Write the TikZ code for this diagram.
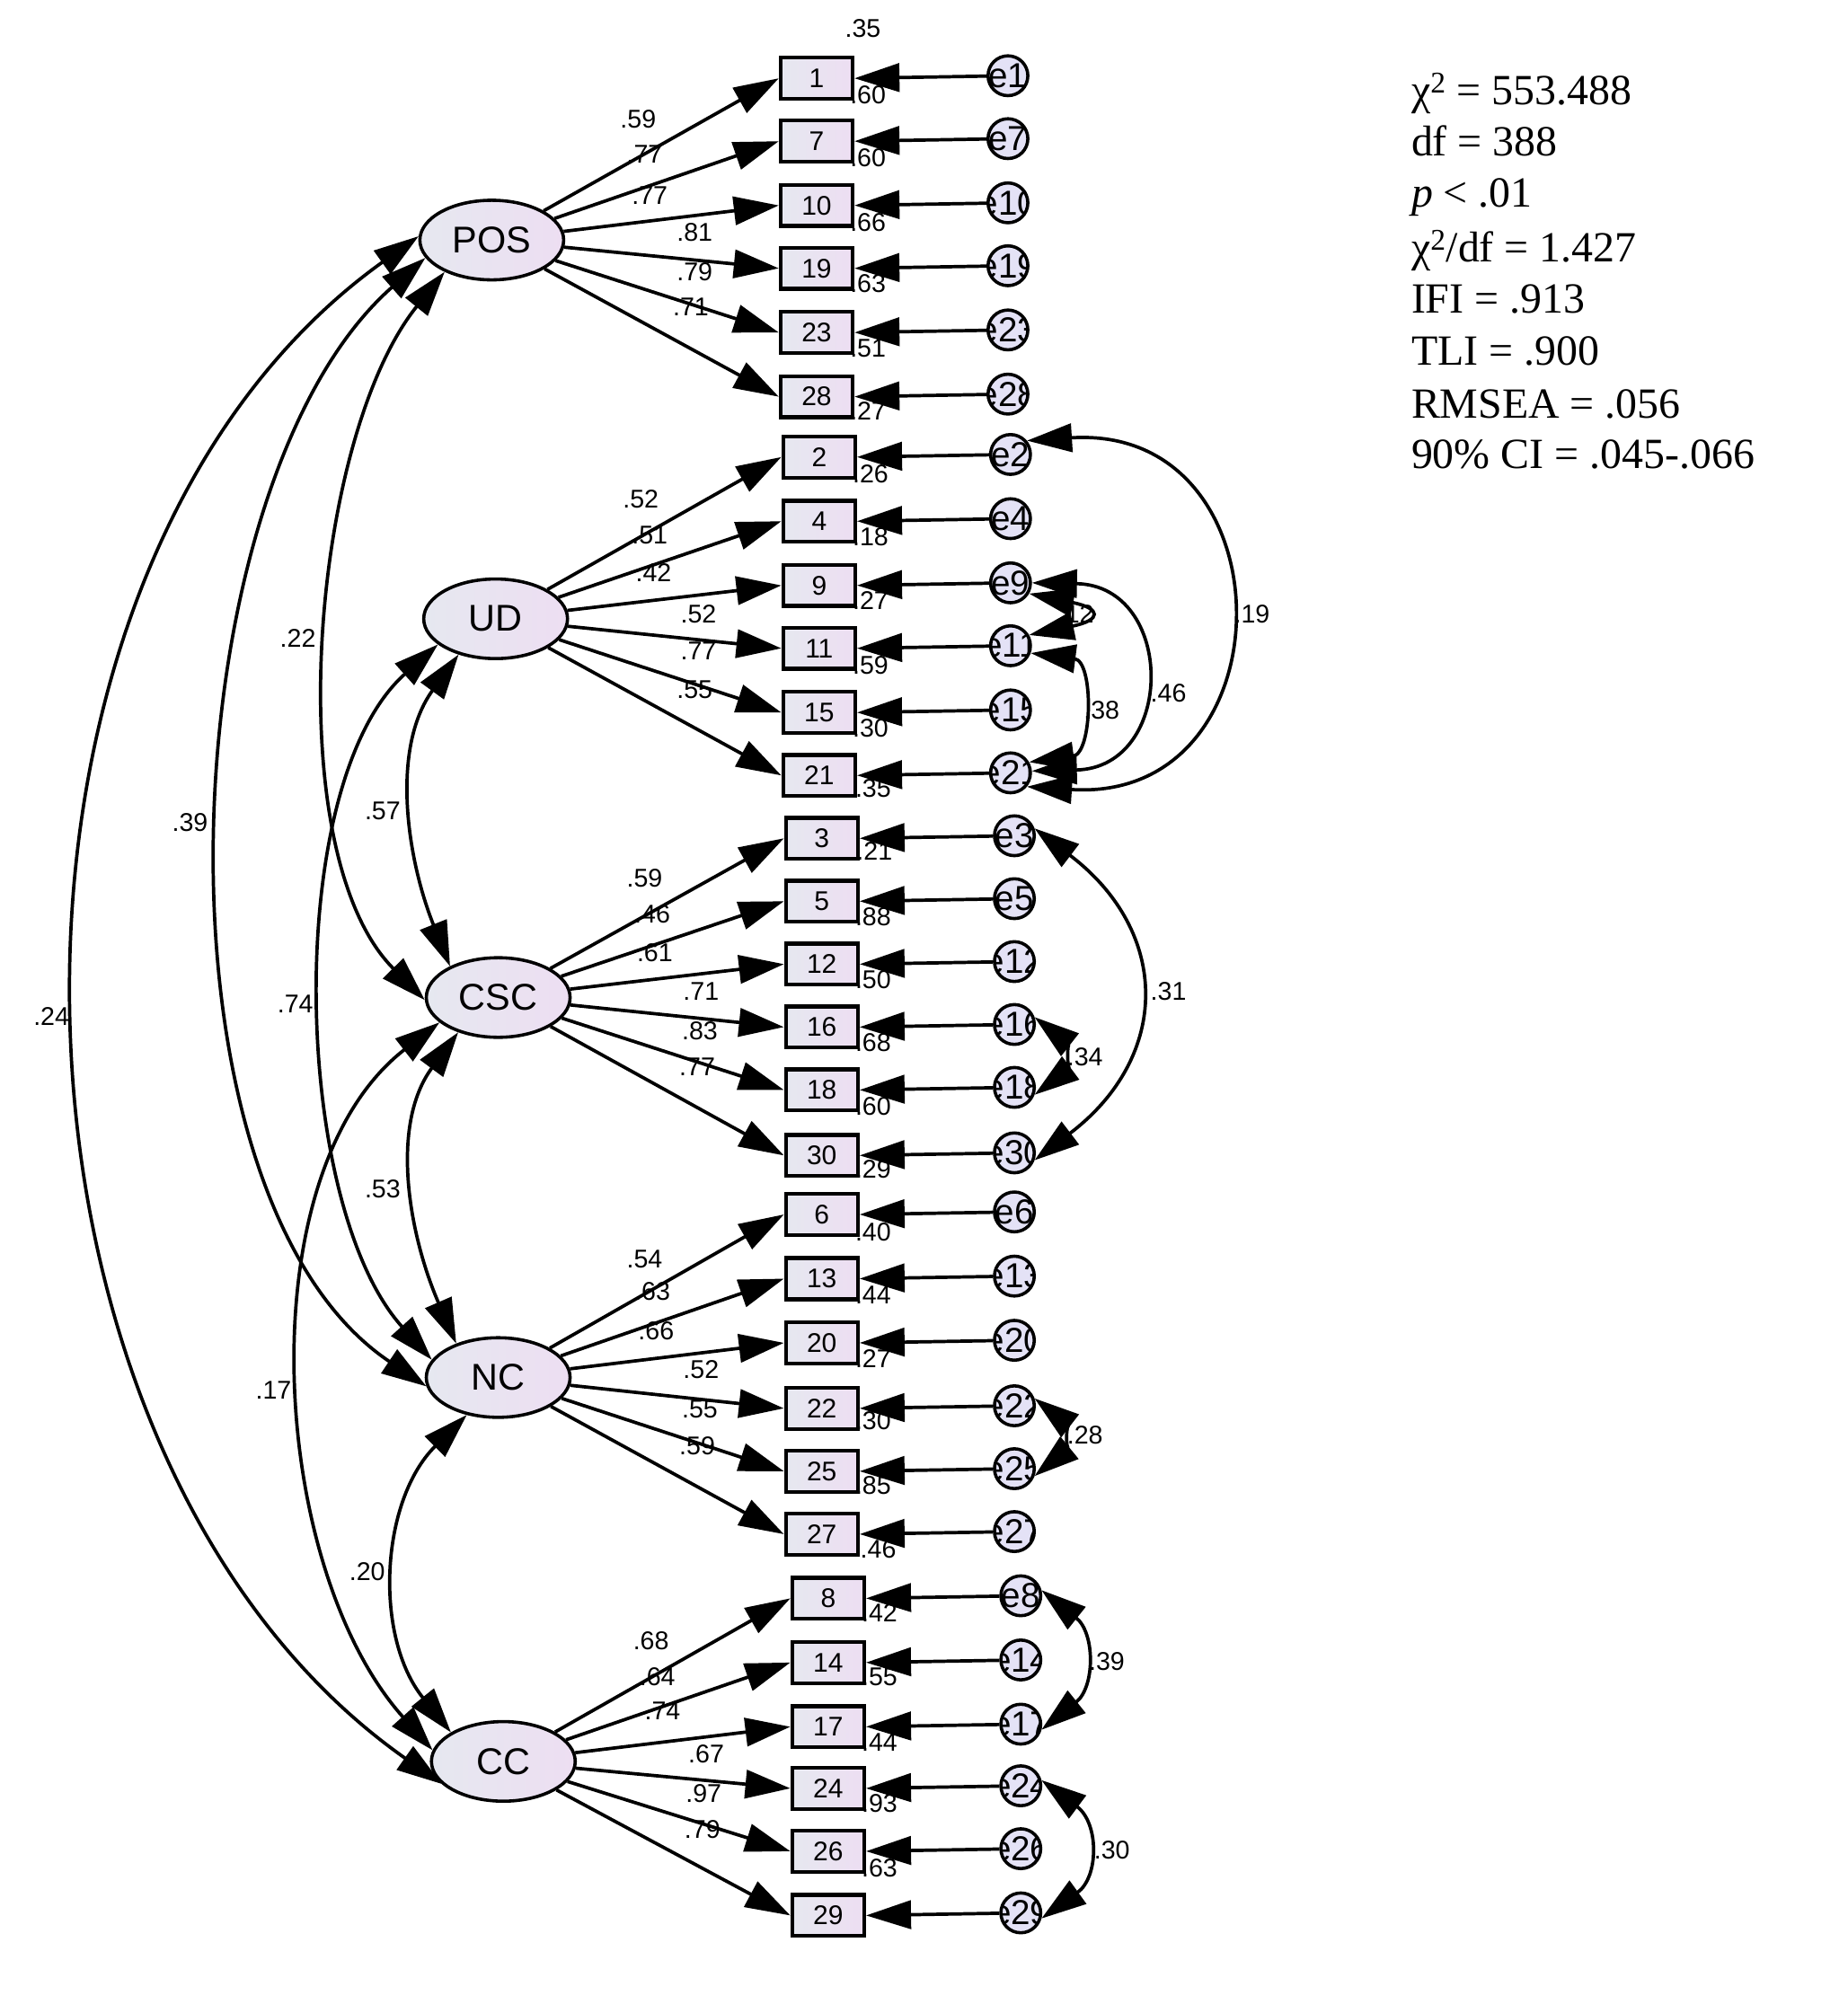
\documentclass[tikz,border=0pt]{standalone}
\usepackage{fontspec}
\setmainfont{Liberation Serif}
\setsansfont{Liberation Sans}
\usetikzlibrary{arrows.meta,shapes.geometric}
\definecolor{latL}{RGB}{230,232,240}
\definecolor{latR}{RGB}{237,222,242}
\definecolor{errF}{RGB}{228,226,246}
\tikzset{
 lat/.style={ellipse, draw, line width=2.5pt, minimum width=112pt, minimum height=62pt, inner sep=0pt, left color=latL, right color=latR, font=\sffamily\fontsize{29}{29}\selectfont},
 obs/.style={rectangle, draw, line width=3pt, minimum width=56pt, minimum height=32pt, inner sep=0pt, left color=latL, right color=latR, font=\sffamily\fontsize{21}{21}\selectfont},
 err/.style={circle, draw, line width=2.5pt, minimum size=31pt, inner sep=0pt, fill=errF, path picture={\node[font=\sffamily\fontsize{27}{27}\selectfont, inner sep=0pt] at (path picture bounding box.center) {#1};}},
 lbl/.style={font=\sffamily\fontsize{20}{20}\selectfont, inner sep=0pt},
 fitstat/.style={anchor=base west, inner sep=0pt, font=\fontsize{33.5}{40}\selectfont},
 arr/.style={line width=2.6pt, -{Triangle[length=35pt,width=22pt]}},
 cov/.style={line width=2.6pt, {Triangle[length=35pt,width=22pt]}-{Triangle[length=35pt,width=22pt]}},
}
\begin{document}
\begin{tikzpicture}[x=1pt,y=-1pt]
\path[use as bounding box, fill=white] (0,0) rectangle (1439,1568);
% latent variables
\node[lat] (POS) at (383,187) {POS};
\node[lat] (UD) at (386,482) {UD};
\node[lat] (CSC) at (388,777) {CSC};
\node[lat] (NC) at (388,1073) {NC};
\node[lat] (CC) at (392,1372) {CC};
% observed boxes
\foreach \n/\y in {1/61,7/110,10/160,19/209,23/259,28/309} \node[obs] (b\n) at (636,\y) {\n};
\foreach \n/\y in {2/356,4/406,9/456,11/505,15/555,21/604} \node[obs] (b\n) at (638,\y) {\n};
\foreach \n/\y in {3/653,5/702,12/751,16/800,18/849,30/900} \node[obs] (b\n) at (640,\y) {\n};
\foreach \n/\y in {6/946,13/996,20/1046,22/1097,25/1146,27/1195} \node[obs] (b\n) at (640,\y) {\n};
\foreach \n/\y in {8/1245,14/1295,17/1345,24/1393,26/1442,29/1492} \node[obs] (b\n) at (645,\y) {\n};
% error terms
\foreach \n/\y in {1/59,7/108,10/158,19/207,23/257,28/307} \node[err=e\n] (e\n) at (785,\y) {};
\foreach \n/\y in {2/354,4/404,9/454,11/503,15/553,21/602} \node[err=e\n] (e\n) at (787,\y) {};
\foreach \n/\y in {3/651,5/700,12/749,16/798,18/847,30/898} \node[err=e\n] (e\n) at (790,\y) {};
\foreach \n/\y in {6/944,13/994,20/1044,22/1095,25/1144,27/1193} \node[err=e\n] (e\n) at (790,\y) {};
\foreach \n/\y in {8/1243,14/1293,17/1343,24/1391,26/1440,29/1490} \node[err=e\n] (e\n) at (795,\y) {};
% loadings
\foreach \n in {1,7,10,19,23,28} \draw[arr] (POS) -- (b\n.west);
\foreach \n in {2,4,9,11,15,21} \draw[arr] (UD) -- (b\n.west);
\foreach \n in {3,5,12,16,18,30} \draw[arr] (CSC) -- (b\n.west);
\foreach \n in {6,13,20,22,25,27} \draw[arr] (NC) -- (b\n.west);
\foreach \n in {8,14,17,24,26,29} \draw[arr] (CC) -- (b\n.west);
% error paths
\foreach \n in {1,7,10,19,23,28,2,4,9,11,15,21,3,5,12,16,18,30,6,13,20,22,25,27,8,14,17,24,26,29} \draw[arr] (e\n) -- (b\n.east);
% loading labels
\foreach \t/\x/\y [count=\i] in {.59/497/93,.77/502/120,.77/506/152,.81/541/181,.79/541/212,.71/538/239,
 .52/499/389,.51/506/417,.42/509/446,.52/544/478,.77/544/507,.55/541/537,
 .59/502/684,.46/508/712,.61/510/742,.71/546/772,.83/545/803,.77/543/831,
 .54/502/981,.63/508/1006,.66/511/1037,.52/546/1067,.55/545/1098,.59/543/1126,
 .68/507/1278,.64/512/1306,.74/516/1333,.67/550/1366,.97/548/1397,.79/547/1425}
 \node[lbl] (ld\i) at (\x,\y) {\t};
% squared multiple correlations
\foreach \t/\x/\y [count=\i] in {.35/672/22,.60/676/74,.60/676/123,.66/676/173,.63/676/221,.51/676/271,.27/676/320,
 .26/678/369,.18/678/418,.27/678/468,.59/678/518,.30/678/567,.35/680/614,
 .21/681/663,.88/680/714,.50/680/763,.68/680/812,.60/680/862,.29/680/911,
 .40/680/960,.44/680/1009,.27/680/1058,.30/680/1107,.85/680/1157,.46/684/1207,
 .42/685/1256,.55/685/1306,.44/685/1357,.93/685/1405,.63/685/1455}
 \node[lbl] (r\i) at (\x,\y) {\t};
% covariances between factors
\draw[cov] (POS.177) .. controls (-38,445) and (-22,1132) .. (CC.200);
\draw[cov] (POS.195) .. controls (131,377) and (109,930) .. (NC.187);
\draw[cov] (POS.214) .. controls (242,341) and (216,664) .. (CSC.182);
\draw[cov] (UD.224) .. controls (304,583) and (317,669) .. (CSC.147);
\draw[cov] (UD.204) .. controls (220,610) and (227,938) .. (NC.165);
\draw[cov] (CSC.221) .. controls (303,877) and (319,963) .. (NC.141);
\draw[cov] (CSC.203) .. controls (192,913) and (209,1220) .. (CC.171);
\draw[cov] (NC.230) .. controls (296,1169) and (291,1275) .. (CC.151);
\node[lbl] (c1) at (232,497) {.22};
\node[lbl] (c2) at (148,641) {.39};
\node[lbl] (c3) at (40,792) {.24};
\node[lbl] (c4) at (298,632) {.57};
\node[lbl] (c5) at (230,782) {.74};
\node[lbl] (c6) at (298,926) {.53};
\node[lbl] (c7) at (213,1083) {.17};
\node[lbl] (c8) at (286,1224) {.20};
% error covariances
\node[lbl] (k2) at (838,478) {.12};
\draw[cov] (e2.40) .. controls (1006,330) and (1006,626) .. (e21.-40);
\draw[cov] (e9.-30) .. controls (858,474) and (858,483) .. (e11.30);
\draw[cov] (e9.0) .. controls (916,456) and (916,598) .. (e21.5);
\draw[cov] (e11.-20) .. controls (852,515) and (851,587) .. (e21.30);
\draw[cov] (e3.20) .. controls (912,726) and (912,823) .. (e30.-20);
\draw[cov] (e16.20) .. controls (831,812) and (831,834) .. (e18.-20);
\draw[cov] (e22.20) .. controls (830,1108) and (830,1130) .. (e25.-20);
\draw[cov] (e8.15) .. controls (853,1272) and (853,1314) .. (e17.-15);
\draw[cov] (e24.15) .. controls (856,1420) and (856,1462) .. (e29.-15);
\node[lbl] (k1) at (975,478) {.19};
\node[lbl] (k3) at (910,540) {.46};
\node[lbl] (k4) at (858,553) {.38};
\node[lbl] (k5) at (910,772) {.31};
\node[lbl] (k6) at (845,823) {.34};
\node[lbl] (k7) at (845,1118) {.28};
\node[lbl] (k8) at (862,1294) {.39};
\node[lbl] (k9) at (866,1441) {.30};
% fit statistics
\node[fitstat] (f1) at (1099,81.7) {χ\textsuperscript{2} = 553.488};
\node[fitstat] (f2) at (1099,121.3) {df = 388};
\node[fitstat] (f3) at (1099,161) {\textit{p} < .01};
\node[fitstat] (f4) at (1099,204) {χ\textsuperscript{2}/df = 1.427};
\node[fitstat] (f5) at (1099,243.8) {IFI = .913};
\node[fitstat] (f6) at (1099,284.6) {TLI = .900};
\node[fitstat] (f7) at (1099,325.5) {RMSEA = .056};
\node[fitstat] (f8) at (1099,365) {90\% CI = .045-.066};
\end{tikzpicture}
\end{document}
